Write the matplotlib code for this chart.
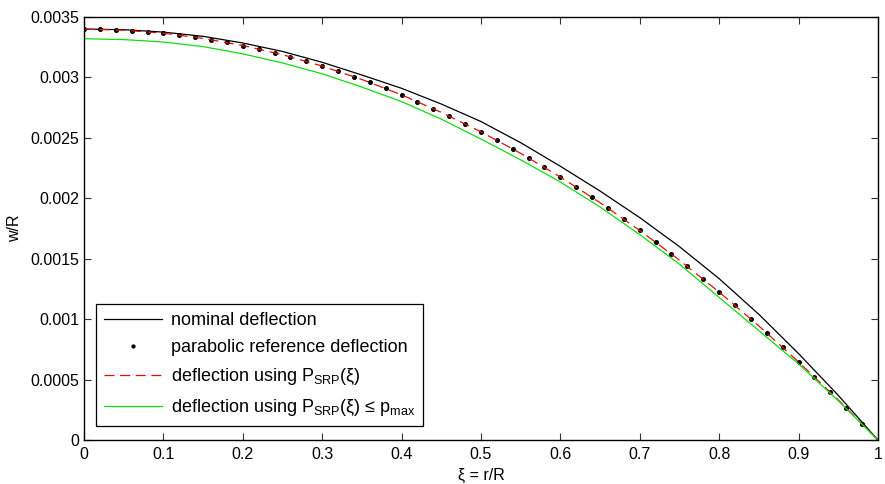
import numpy as np
import matplotlib
matplotlib.use("Agg")
import matplotlib.pyplot as plt
from matplotlib.ticker import FuncFormatter, MultipleLocator

plt.rcParams['font.family'] = ['Liberation Sans', 'DejaVu Sans']
plt.rcParams['mathtext.fontset'] = 'custom'
plt.rcParams['mathtext.rm'] = 'Liberation Sans'
plt.rcParams['mathtext.default'] = 'regular'

# data
xi_line = [0.00, 0.05, 0.10, 0.15, 0.20, 0.25, 0.30, 0.35, 0.40, 0.45, 0.50,
           0.55, 0.60, 0.65, 0.70, 0.75, 0.80, 0.85, 0.90, 0.95, 1.00]

w_nominal = [0.003400, 0.003395, 0.003375, 0.003340, 0.003285, 0.003215,
             0.003125, 0.003020, 0.002910, 0.002780, 0.002635, 0.002460,
             0.002265, 0.002060, 0.001840, 0.001600, 0.001335, 0.001040,
             0.000715, 0.000370, 0.0]

w_srp = [0.003400, 0.003391, 0.003366, 0.003323, 0.003264, 0.003188,
         0.003094, 0.002983, 0.002856, 0.002711, 0.002550, 0.002372,
         0.002176, 0.001964, 0.001734, 0.001488, 0.001224, 0.000944,
         0.000646, 0.000332, 0.0]

w_srp_max = [0.003320, 0.003313, 0.003293, 0.003255, 0.003195, 0.003120,
             0.003030, 0.002920, 0.002800, 0.002655, 0.002490, 0.002318,
             0.002135, 0.001928, 0.001700, 0.001455, 0.001180, 0.000905,
             0.000630, 0.000325, 0.0]

xi_dots = [0.00, 0.02, 0.04, 0.06, 0.08, 0.10, 0.12, 0.14, 0.16, 0.18,
           0.20, 0.22, 0.24, 0.26, 0.28, 0.30, 0.32, 0.34, 0.36, 0.38,
           0.40, 0.42, 0.44, 0.46, 0.48, 0.50, 0.52, 0.54, 0.56, 0.58,
           0.60, 0.62, 0.64, 0.66, 0.68, 0.70, 0.72, 0.74, 0.76, 0.78,
           0.80, 0.82, 0.84, 0.86, 0.88, 0.90, 0.92, 0.94, 0.96, 0.98, 1.00]

w_parabolic = [0.0034000, 0.0033986, 0.0033946, 0.0033878, 0.0033782,
               0.0033660, 0.0033510, 0.0033334, 0.0033130, 0.0032898,
               0.0032640, 0.0032354, 0.0032042, 0.0031702, 0.0031334,
               0.0030940, 0.0030518, 0.0030070, 0.0029594, 0.0029090,
               0.0028560, 0.0028002, 0.0027418, 0.0026806, 0.0026166,
               0.0025500, 0.0024806, 0.0024086, 0.0023338, 0.0022562,
               0.0021760, 0.0020930, 0.0020074, 0.0019190, 0.0018278,
               0.0017340, 0.0016374, 0.0015382, 0.0014362, 0.0013314,
               0.0012240, 0.0011138, 0.0010010, 0.0008854, 0.0007670,
               0.0006460, 0.0005222, 0.0003958, 0.0002666, 0.0001346, 0.0]

fig = plt.figure(figsize=(8.85, 4.84), dpi=100)
ax = fig.add_axes([0.0949, 0.0909, 0.8971, 0.874])

ax.plot(xi_line, w_nominal, color='black', lw=0.9, label='nominal deflection')
ax.plot(xi_dots, w_parabolic, ls='none', marker='o', ms=2.6, color='black',
        label='parabolic reference deflection')
ax.plot(xi_line, w_srp, color='#d81010', lw=0.9, dashes=(8, 4.5),
        label='deflection using P$_{SRP}$(ξ)')
ax.plot(xi_line, w_srp_max, color='#11dd11', lw=0.9,
        label='deflection using P$_{SRP}$(ξ) ≤ p$_{max}$')

ax.set_xlim(0, 1)
ax.set_ylim(0, 0.0035)
ax.xaxis.set_major_locator(MultipleLocator(0.1))
ax.yaxis.set_major_locator(MultipleLocator(0.0005))
ax.xaxis.set_major_formatter(FuncFormatter(lambda v, p: '%g' % round(v, 4)))
ax.yaxis.set_major_formatter(FuncFormatter(lambda v, p: '%g' % round(v, 6)))
ax.tick_params(direction='in', top=True, right=True, length=5, width=0.8,
               labelsize=11.5, color='#333333')
ax.tick_params(axis='x', pad=5)
for s in ax.spines.values():
    s.set_linewidth(1.0)

ax.set_xlabel('ξ = r/R', fontsize=11.5, labelpad=4)
ax.set_ylabel('w/R', fontsize=11.5, labelpad=6)

leg = ax.legend(loc='lower left', bbox_to_anchor=(0.015, 0.033),
                borderaxespad=0, fancybox=False, edgecolor='black',
                framealpha=1, fontsize=13, handlelength=3.2, numpoints=1,
                markerscale=0.8, labelspacing=0.55, borderpad=0.45,
                handletextpad=0.5)
leg.get_frame().set_linewidth(0.9)

fig.savefig('out.png', dpi=100)
